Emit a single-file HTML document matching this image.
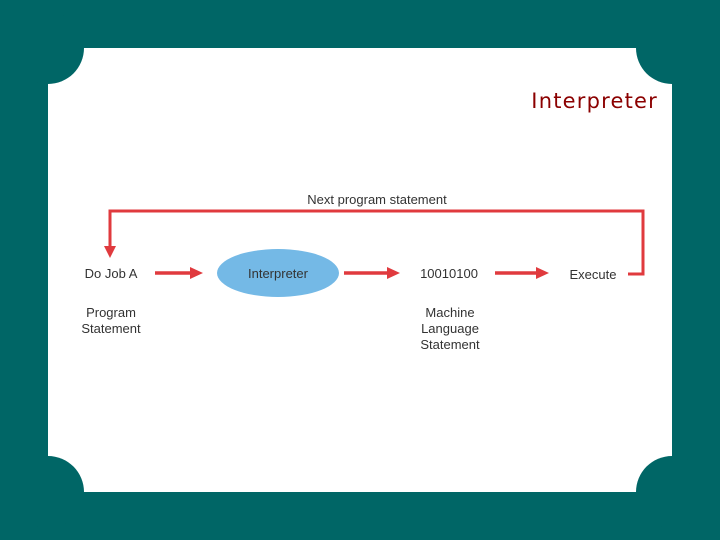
<!DOCTYPE html>
<html><head><style>
html,body{margin:0;padding:0;}
body{width:720px;height:540px;background:#006666;position:relative;overflow:hidden;font-family:"Liberation Sans",sans-serif;}
</style></head><body>
<svg width="720" height="540" style="position:absolute;left:0;top:0">
<rect x="48" y="48" width="624" height="444" fill="#fff"/>
<circle cx="48" cy="48" r="36" fill="#006666"/>
<circle cx="672" cy="48" r="36" fill="#006666"/>
<circle cx="48" cy="492" r="36" fill="#006666"/>
<circle cx="672" cy="492" r="36" fill="#006666"/>
<text x="658" y="108" text-anchor="end" font-family="DejaVu Sans, sans-serif" font-size="21" letter-spacing="1.2" fill="#8b0000">Interpreter</text>
<text x="377" y="204" text-anchor="middle" font-size="13" fill="#333">Next program statement</text>
<polyline points="628,274 643,274 643,211 110,211 110,248" fill="none" stroke="#e03a3e" stroke-width="3"/>
<polygon points="104,246 116,246 110,258" fill="#e03a3e"/>
<g stroke="#e03a3e" stroke-width="3.5">
<line x1="155" y1="273" x2="192" y2="273"/>
<line x1="344" y1="273" x2="389" y2="273"/>
<line x1="495" y1="273" x2="538" y2="273"/>
</g>
<g fill="#e03a3e">
<polygon points="190,267 203,273 190,279"/>
<polygon points="387,267 400,273 387,279"/>
<polygon points="536,267 549,273 536,279"/>
</g>
<ellipse cx="278" cy="273" rx="61" ry="24" fill="#74b9e6"/>
<g font-size="13" fill="#333" text-anchor="middle">
<text x="111" y="278">Do Job A</text>
<text x="278" y="278">Interpreter</text>
<text x="449" y="278">10010100</text>
<text x="593" y="279">Execute</text>
<text x="111" y="317">Program</text>
<text x="111" y="333">Statement</text>
<text x="450" y="317">Machine</text>
<text x="450" y="333">Language</text>
<text x="450" y="349">Statement</text>
</g>
</svg>
</body></html>
